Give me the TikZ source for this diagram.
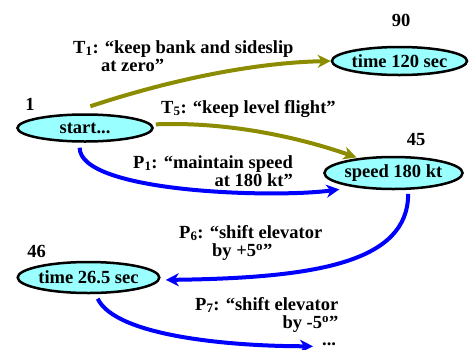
\documentclass[tikz,border=0pt]{standalone}
\usepackage{fontspec}
\setmainfont{Liberation Serif}
\usetikzlibrary{arrows.meta,shapes.geometric}

\definecolor{flowolive}{RGB}{140,140,0}
\definecolor{planblue}{RGB}{0,0,255}
\definecolor{statefill}{RGB}{153,255,255}

% multi-line label whose baseline is that of its first line
\newcommand\labellines[2][l]{\begin{tabular}[t]{@{}#1@{}}#2\end{tabular}}

\tikzset{
  state/.style={ellipse, draw=black, line width=2.5pt, fill=statefill,
                inner sep=0pt, minimum width=135pt},
  stepnum/.style={anchor=base, inner sep=0pt},
  edgelabel/.style={anchor=base west, inner sep=0pt},
  tip/.style={-{Stealth[length=13pt,width=13pt,inset=4pt]}},
  taskedge/.style={draw=flowolive, line width=4pt, tip},
  planedge/.style={draw=planblue, line width=4pt, tip}
}

\begin{document}
\begin{tikzpicture}[x=1pt, y=-1pt,
    font=\fontsize{18.5}{18.5}\selectfont\bfseries]
  \useasboundingbox (0,0) rectangle (472,349);

  % states
  \node[state, minimum height=27pt] (start) at (85,128)    {start...};
  \node[state, minimum height=28pt] (t120)  at (399.5,61)  {time 120 sec};
  \node[state, minimum height=32pt] (speed) at (393.5,173) {speed 180 kt};
  \node[state, minimum height=31pt] (t26)   at (88.5,277.5){time 26.5 sec};
  \node[inner sep=0pt, anchor=base west] (more) at (322,345.5) {...};

  % step numbers
  \node[stepnum] (n1)  at (30,110)   {1};
  \node[stepnum] (n90) at (401,26)   {90};
  \node[stepnum] (n45) at (416,145)  {45};
  \node[stepnum] (n46) at (36.5,257) {46};

  % edge labels
  \node[edgelabel] (lt1) at (73,53)
    {\labellines{T\textsubscript{1}: “keep bank and sideslip\\\hspace*{28pt}at zero”}};
  \node[edgelabel] (lt5) at (161,113) {T\textsubscript{5}: “keep level flight”};
  \node[edgelabel] (lp1) at (133,168)
    {\labellines[r]{P\textsubscript{1}: “maintain speed\\at 180 kt”}};
  \node[edgelabel] (lp6) at (179,238)
    {\labellines{P\textsubscript{6}: “shift elevator\\\hspace*{33pt}by +5\textsuperscript{o}”}};
  \node[edgelabel] (lp7) at (195,310)
    {\labellines[r]{P\textsubscript{7}: “shift elevator\\by -5\textsuperscript{o}”}};

  % task transitions
  \draw[taskedge] ([yshift=7pt]start.70) .. controls +(60,-20) and +(-90,2) .. (t120.west);
  \draw[taskedge, shorten <=4pt, shorten >=2pt]
    (start.3) .. controls +(75,-3) and +(-60,-21) .. (speed.157);

  % plan transitions
  \draw[planedge, shorten <=5pt, shorten >=15pt]
    (start.-110) .. controls +(0,50) and +(-80,11) .. (speed.200);
  \draw[planedge, shorten <=4pt, shorten >=6pt]
    (speed.-49) .. controls +(0,73) and +(155,-2) .. (t26.-2);
  \draw[planedge, shorten <=5pt, shorten >=9pt]
    (t26.-67) .. controls +(20,42) and +(-92,0) .. ([yshift=-2pt]more.west);
\end{tikzpicture}
\end{document}
